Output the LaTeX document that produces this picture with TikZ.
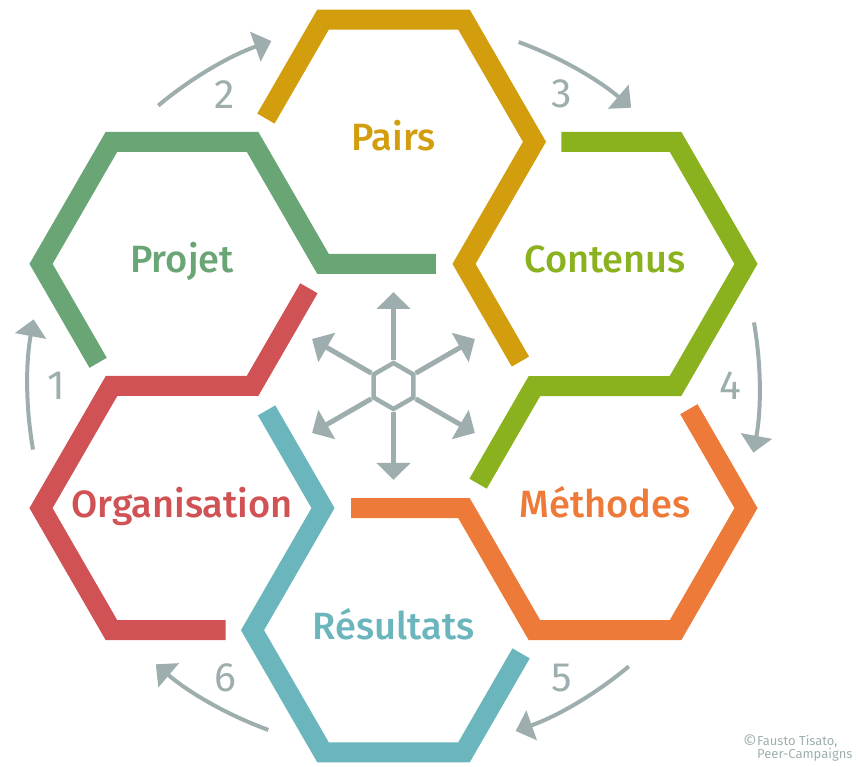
\documentclass[tikz,border=0pt]{standalone}
\usepackage{fontspec}
\setsansfont{Fira Sans}
\newfontfamily\cellfont{Fira Sans}[UprightFont={* Medium}]
\newfontfamily\numfont{Fira Sans}[UprightFont={* Light}]
\usetikzlibrary{arrows.meta,calc,shapes.geometric}

\definecolor{pairs}{RGB}{211,158,13}
\definecolor{contenus}{RGB}{138,178,31}
\definecolor{methodes}{RGB}{238,122,58}
\definecolor{resultats}{RGB}{107,182,189}
\definecolor{organisation}{RGB}{208,82,84}
\definecolor{projet}{RGB}{106,165,117}
\definecolor{cyclegrey}{RGB}{158,174,174}

\tikzset{
  hexline/.style={line width=20pt},
  cell/.style={font=\cellfont\fontsize{38}{38}\selectfont, text=#1, anchor=base, inner sep=0pt},
  stepnum/.style={font=\sffamily\fontsize{41}{41}\selectfont, text=cyclegrey, inner sep=0pt},
  cyclearrow/.style={line width=4pt, cyclegrey, -{Triangle[length=17pt,width=31pt]}},
  spoke/.style={line width=5pt, cyclegrey, -{Triangle[length=17pt,width=33pt]}},
  credit/.style={font=\sffamily\fontsize{13}{11}\selectfont, text=cyclegrey, inner sep=0pt}
}

\begin{document}
\begin{tikzpicture}[x=1pt,y=1pt]
  \useasboundingbox (0,0) rectangle (862,767);
  \coordinate (C) at (393.5,381);

  % the six open hexagons
  \foreach \ang/\col/\txt in {90/pairs/Pairs, 30/contenus/Contenus,
      -30/methodes/Méthodes, -90/resultats/Résultats,
      -150/organisation/Organisation, 150/projet/Projet} {
    \coordinate (h\col) at ($(C)+(\ang:244.2)$);
    \draw[hexline, draw=\col, shift={(h\col)}, rotate=\ang-90]
      (-127.6,23.2) -- (120:141) -- (60:141) -- (0:141) -- (-60:141)
      -- (126.9,-219.8);
    \node[cell=\col] (\col) at ($(h\col)+(0,-9)$) {\txt};
  }

  % cycle arrows and numbers
  \foreach \n in {1,...,6} {
    \pgfmathsetmacro\a{240-60*\n}
    \draw[cyclearrow] ($(C)+(\a+10:366)$)
      arc[start angle=\a+10, end angle=\a-10.5, radius=366];
    \node[stepnum] (n\n) at ($(C)+(\a:337)$) {\n};
  }

  % hub in the middle
  \node[draw=cyclegrey, line width=4.5pt, regular polygon, regular polygon sides=6,
    shape border rotate=30, minimum size=46pt, inner sep=0pt] (hub) at (C) {};
  \foreach \i in {1,...,6}
    \draw[spoke] (hub.corner \i) -- ($(hub.center)!94pt!(hub.corner \i)$);

  \node[credit, align=left, anchor=north west] (credit) at (757,32)
    {Fausto Tisato,\\Peer-Campaigns};
  \node[credit, font=\sffamily\fontsize{17}{17}\selectfont, anchor=north east]
    (copy) at (credit.north west) {©};
\end{tikzpicture}
\end{document}
